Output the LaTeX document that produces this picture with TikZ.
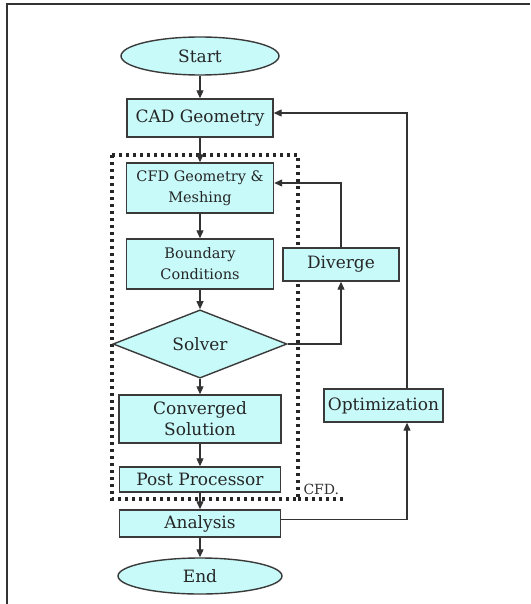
\documentclass[tikz,border=0pt]{standalone}
\usepackage{fontspec}
\setmainfont{DejaVu Serif}
\usetikzlibrary{shapes.geometric,arrows.meta}
\definecolor{boxfill}{HTML}{C8FAFA}
\definecolor{boxline}{HTML}{3A3A3A}
\begin{document}
\begin{tikzpicture}[x=1pt,y=-1pt,
  box/.style={draw=boxline, fill=boxfill, line width=1.4pt, rectangle, inner sep=1pt, align=center, text=black!85, font=\fontsize{17}{21}\selectfont},
  smallbox/.style={box, font=\fontsize{14.5}{21}\selectfont},
  term/.style={box, ellipse},
  arr/.style={-{Triangle[length=8pt,width=7pt]}, line width=1.1pt, draw=black!80},
  frameline/.style={line width=1.6pt, draw=black!80},
  cfdbox/.style={line width=3.2pt, dash pattern=on 3pt off 4pt, draw=black!85}
]
\useasboundingbox (0,0) rectangle (530,604);
\fill[white] (0,0) rectangle (530,604);
% outer frame
\draw[frameline] (7,604) -- (7,4) -- (530,4);
% CFD dotted region
\draw[cfdbox] (112,155) -- (298,155) -- (298,499) -- (112,499) -- cycle;
\draw[cfdbox] (298,499) -- (345,499);
\node[anchor=west, font=\fontsize{14}{16}\selectfont, text=black!80] (cfdlabel) at (300,489) {CFD.};
% nodes
\node[term, minimum width=158pt, minimum height=38pt] (start) at (200,56) {Start};
\node[box, minimum width=146pt, minimum height=38pt] (cad) at (200,118) {CAD Geometry};
\node[smallbox, minimum width=147pt, minimum height=50pt] (cfdg) at (200,188) {CFD Geometry \&\\Meshing};
\node[smallbox, minimum width=147pt, minimum height=50pt] (bc) at (200,264) {Boundary\\Conditions};
\node[box, diamond, minimum width=174pt, minimum height=58pt, inner sep=0pt] (solver) at (200,344) {Solver};
\node[box, minimum width=162pt, minimum height=48pt] (conv) at (200,419) {Converged\\Solution};
\node[box, minimum width=161pt, minimum height=25pt, inner sep=0pt] (post) at (200,479.5) {Post Processor};
\node[box, minimum width=161pt, minimum height=27pt] (analysis) at (200,523.5) {Analysis};
\node[term, minimum width=164pt, minimum height=36pt] (end) at (200,576) {End};
\node[box, minimum width=116pt, minimum height=33pt] (diverge) at (341,264.5) {Diverge};
\node[box, minimum width=119pt, minimum height=33pt] (opt) at (383.5,405.5) {Optimization};
% main flow
\draw[arr] (start.south) -- (start.south |- cad.north);
\draw[arr] (cad.south) -- (cad.south |- cfdg.north);
\draw[arr] (cfdg.south) -- (cfdg.south |- bc.north);
\draw[arr] (bc.south) -- (bc.south |- solver.north);
\draw[arr] (solver.south) -- (solver.south |- conv.north);
\draw[arr] (conv.south) -- (conv.south |- post.north);
\draw[arr] (post.south) -- (post.south |- analysis.north);
\draw[arr] (analysis.south) -- (analysis.south |- end.north);
% loops
\draw[arr] (solver.east) -| (diverge.south);
\draw[arr] (diverge.north) |- ([yshift=5pt]cfdg.east);
\draw[arr] ([yshift=4pt]analysis.east) -| ([xshift=23.5pt]opt.south);
\draw[arr] ([xshift=23.5pt]opt.north) |- ([yshift=5pt]cad.east);
\end{tikzpicture}
\end{document}
